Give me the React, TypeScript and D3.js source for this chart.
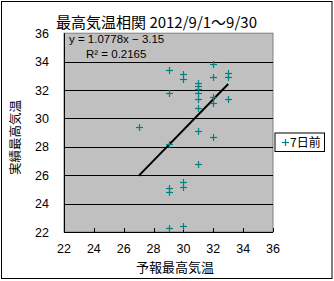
import React from "react";
import * as d3 from "d3";

const xValues: number[] = [29, 30, 30, 32, 32, 33, 33, 31, 31, 31, 31, 31, 31, 29, 32, 32, 33, 31, 32, 29, 27, 31, 29, 29, 30, 30, 29, 30];
const yValues: number[] = [33.4, 33.1, 32.8, 33.8, 32.9, 33.2, 32.9, 32.5, 32.3, 32.1, 31.8, 31.4, 30.7, 31.8, 31.5, 31.1, 31.4, 29.1, 28.7, 28.2, 29.4, 26.8, 25.1, 24.8, 25.5, 25.2, 22.3, 22.4];
const xTicks: number[] = [22, 24, 26, 28, 30, 32, 34, 36];
const yTicks: number[] = [22, 24, 26, 28, 30, 32, 34, 36];
const slope = 1.0778;
const intercept = -3.15;
const rSquared = "0.2165";
const title = "最高気温相関 2012/9/1～9/30";
const xTitle = "予報最高気温";
const yTitle = "実績最高気温";
const seriesName = "7日前";

const W = 334;
const H = 281;
const left = 64, right = 273, top = 33.2, bottom = 232;

export default function App() {
  const x = d3.scaleLinear().domain([22, 36]).range([left, right]);
  const y = d3.scaleLinear().domain([22, 36]).range([bottom, top]);
  const teal = "#008080";
  const num = "'Liberation Sans', Arial, sans-serif";
  const jp = "'Noto Sans CJK JP', sans-serif";
  const xMin = d3.min(xValues) as number;
  const xMax = d3.max(xValues) as number;
  const line = d3.line<number>().x((d) => x(d)).y((d) => y(slope * d + intercept));
  const s = 3.5;
  return (
    <svg width={W} height={H} style={{ position: "absolute", left: 0, top: 0, background: "#fff" }}>
      <rect x={1.5} y={1.5} width={330.5} height={277} fill="#fff" stroke="#000" strokeWidth={1} />
      <text x={156.5} y={27.5} textAnchor="middle" fontFamily={jp} fontSize={15} fill="#000">{title}</text>
      <rect x={left} y={top} width={right - left} height={bottom - top} fill="#c0c0c0" stroke="#808080" strokeWidth={1} />
      {yTicks.filter((t) => t !== 22 && t !== 36).map((t) => (
        <line key={"g" + t} x1={left} x2={right} y1={Math.round(y(t)) + 0.5} y2={Math.round(y(t)) + 0.5} stroke="#000" strokeWidth={1} />
      ))}
      <line x1={left + 0.5} x2={left + 0.5} y1={top} y2={bottom} stroke="#000" />
      <line x1={left} x2={right} y1={bottom + 0.5} y2={bottom + 0.5} stroke="#000" />
      {xTicks.map((t) => (
        <line key={"xt" + t} x1={Math.round(x(t)) + 0.5} x2={Math.round(x(t)) + 0.5} y1={bottom - 4} y2={bottom} stroke="#000" />
      ))}
      {xTicks.map((t) => (
        <text key={"xl" + t} x={x(t)} y={253} textAnchor="middle" fontFamily={num} fontSize={12.5} fill="#000">{t}</text>
      ))}
      {yTicks.map((t) => (
        <text key={"yl" + t} x={49} y={y(t) + 4.5} textAnchor="end" fontFamily={num} fontSize={12.5} fill="#000">{t}</text>
      ))}
      <text x={69} y={43} fontFamily={num} fontSize={11.5} fill="#000">{`y = ${slope}x − ${Math.abs(intercept)}`}</text>
      <text x={86} y={58} fontFamily={num} fontSize={11.5} fill="#000">{`R² = ${rSquared}`}</text>
      <path d={line([xMin, xMax]) || ""} fill="none" stroke="#000" strokeWidth={2} />
      {xValues.map((xv, i) => {
        const cx = Math.round(x(xv)) + 0.5;
        const cy = Math.round(y(yValues[i])) + 0.5;
        return (
          <g key={"p" + i} stroke={teal} strokeWidth={1.2}>
            <line x1={cx - s} x2={cx + s} y1={cy} y2={cy} />
            <line x1={cx} x2={cx} y1={cy - s} y2={cy + s} />
          </g>
        );
      })}
      <text x={175} y={272} textAnchor="middle" fontFamily={jp} fontSize={13} fill="#000">{xTitle}</text>
      <text transform={`translate(20,137.5) rotate(-90)`} textAnchor="middle" fontFamily={jp} fontSize={12.5} fill="#000">{yTitle}</text>
      <rect x={275} y={133} width={49.5} height={18.5} fill="#fff" stroke="#000" strokeWidth={1} />
      <g stroke={teal} strokeWidth={1.2}>
        <line x1={282} x2={289} y1={142.5} y2={142.5} />
        <line x1={285.5} x2={285.5} y1={139} y2={146} />
      </g>
      <text x={290} y={147} fontFamily={jp} fontSize={12} fill="#000">{seriesName}</text>
    </svg>
  );
}
